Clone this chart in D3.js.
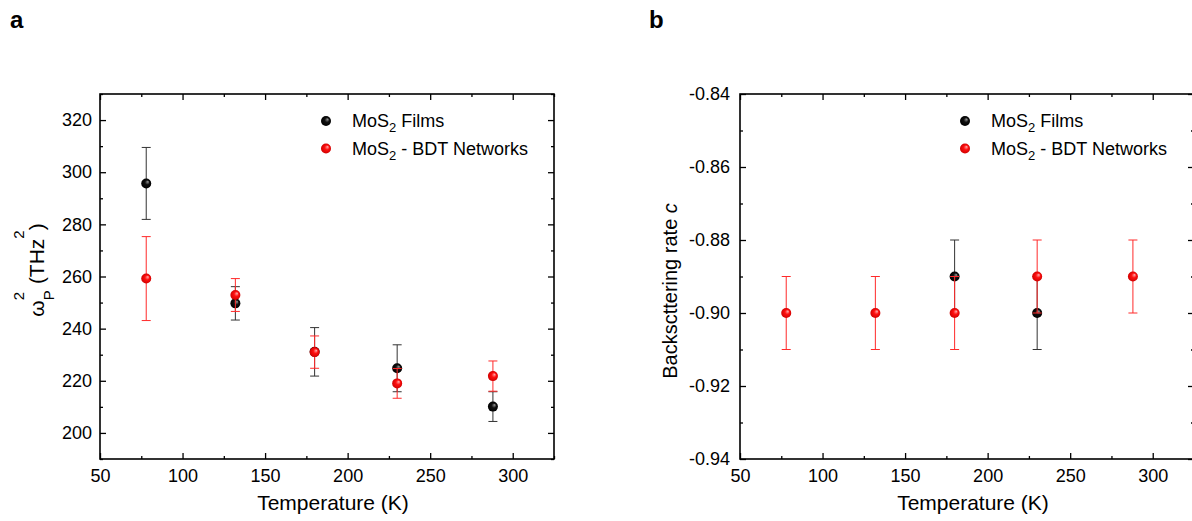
<!DOCTYPE html>
<html>
<head>
<meta charset="utf-8">
<script src="https://cdn.jsdelivr.net/npm/d3@7"></script>
<style>
  body { margin: 0; background: #fff; }
  svg { display: block; font-family: "Liberation Sans", Arial, sans-serif; }
</style>
</head>
<body>
<svg id="chart"></svg>
<script>
// temperatures (K)
var temps = [78, 132, 180, 230, 288]

// panel a: plasma frequency squared (THz^2)
var aFilms = [295.7, 249.7, 231.1, 224.8, 210.1]
var aFilmsErr = [13.8, 6.4, 9.3, 9.0, 5.7]
var aBdt = [259.2, 252.9, 231.0, 219.0, 221.8]
var aBdtErr = [16.1, 6.3, 6.2, 5.7, 5.8]

// panel b: backscattering rate c
var bFilmsTemps = [180, 230]
var bFilms = [-0.89, -0.90]
var bFilmsErr = [0.01, 0.01]
var bBdt = [-0.90, -0.90, -0.90, -0.89, -0.89]
var bBdtErr = [0.01, 0.01, 0.01, 0.01, 0.01]

var xTicks = [50, 100, 150, 200, 250, 300]
var xMinor = [75, 125, 175, 225, 275, 325]
var aYTicks = [200, 220, 240, 260, 280, 300, 320]
var aYMinor = [190, 210, 230, 250, 270, 290, 310, 330]
var bYTicks = [-0.94, -0.92, -0.90, -0.88, -0.86, -0.84]
var bYMinor = [-0.93, -0.91, -0.89, -0.87, -0.85]

var legendNames = ["Films", " - BDT Networks"]

var svg = d3.select('#chart').attr('width', 1192).attr('height', 521)

// sphere-like marker fills
var defs = svg.append('defs')
function sphere(id, light, mid, dark) {
    var g = defs.append('radialGradient').attr('id', id)
        .attr('cx', 0.5).attr('cy', 0.5).attr('r', 0.5)
        .attr('fx', 0.68).attr('fy', 0.32)
    g.append('stop').attr('offset', '0%').attr('stop-color', light)
    g.append('stop').attr('offset', '45%').attr('stop-color', mid)
    g.append('stop').attr('offset', '100%').attr('stop-color', dark)
}
sphere('ballBlack', '#9a9a9a', '#111', '#000')
sphere('ballRed', '#ffb0b0', '#ff1010', '#d00000')

function drawPanel(opts) {
    var x = d3.scaleLinear().domain([50, 325]).range([opts.left, opts.right])
    var y = d3.scaleLinear().domain(opts.yDomain).range([459, 94])
    var g = svg.append('g')

    function styleAxis(sel) {
        sel.select('.domain').remove()
        sel.selectAll('line').attr('stroke', '#000').attr('stroke-width', 1.3)
        sel.selectAll('text').attr('fill', '#000').attr('font-size', '18px')
            .attr('font-family', '"Liberation Sans", Arial, sans-serif')
    }

    // major ticks on every side, pointing inward
    g.append('g').attr('transform', 'translate(0,459)')
        .call(d3.axisBottom(x).tickValues(xTicks).tickSize(-6).tickPadding(10))
        .call(styleAxis)
    g.append('g').attr('transform', 'translate(0,94)')
        .call(d3.axisTop(x).tickValues(xTicks).tickSize(-6).tickFormat(''))
        .call(styleAxis)
    g.append('g').attr('transform', 'translate(' + opts.left + ',0)')
        .call(d3.axisLeft(y).tickValues(opts.yTicks).tickSize(-6).tickPadding(opts.pad).tickFormat(opts.fmt))
        .call(styleAxis)
    g.append('g').attr('transform', 'translate(' + opts.right + ',0)')
        .call(d3.axisRight(y).tickValues(opts.yTicks).tickSize(-6).tickFormat(''))
        .call(styleAxis)
    // minor ticks
    g.append('g').attr('transform', 'translate(0,459)')
        .call(d3.axisBottom(x).tickValues(xMinor).tickSize(-3).tickFormat('')).call(styleAxis)
    g.append('g').attr('transform', 'translate(0,94)')
        .call(d3.axisTop(x).tickValues(xMinor).tickSize(-3).tickFormat('')).call(styleAxis)
    g.append('g').attr('transform', 'translate(' + opts.left + ',0)')
        .call(d3.axisLeft(y).tickValues(opts.yMinor).tickSize(-3).tickFormat('')).call(styleAxis)
    g.append('g').attr('transform', 'translate(' + opts.right + ',0)')
        .call(d3.axisRight(y).tickValues(opts.yMinor).tickSize(-3).tickFormat('')).call(styleAxis)

    // frame
    g.append('rect')
        .attr('x', opts.left).attr('y', 94)
        .attr('width', opts.right - opts.left).attr('height', 459 - 94)
        .attr('fill', 'none').attr('stroke', '#000').attr('stroke-width', 1.6)

    // x title
    g.append('text')
        .attr('x', (opts.left + opts.right) / 2 + 6).attr('y', 510)
        .attr('text-anchor', 'middle').attr('font-size', '21px')
        .text('Temperature (K)')

    // series with error bars
    opts.series.forEach(function(s) {
        var pts = s.t.map(function(t, i) { return { t: t, v: s.v[i], e: s.e[i] } })
        var eg = g.append('g').attr('stroke', s.bar).attr('stroke-width', 1)
        eg.selectAll('line.v').data(pts).enter().append('line')
            .attr('x1', function(d) { return x(d.t) }).attr('x2', function(d) { return x(d.t) })
            .attr('y1', function(d) { return y(d.v + d.e) }).attr('y2', function(d) { return y(d.v - d.e) })
        eg.selectAll('line.top').data(pts).enter().append('line')
            .attr('x1', function(d) { return x(d.t) - 4.5 }).attr('x2', function(d) { return x(d.t) + 4.5 })
            .attr('y1', function(d) { return y(d.v + d.e) }).attr('y2', function(d) { return y(d.v + d.e) })
        eg.selectAll('line.bot').data(pts).enter().append('line')
            .attr('x1', function(d) { return x(d.t) - 4.5 }).attr('x2', function(d) { return x(d.t) + 4.5 })
            .attr('y1', function(d) { return y(d.v - d.e) }).attr('y2', function(d) { return y(d.v - d.e) })
        g.append('g').selectAll('circle').data(pts).enter().append('circle')
            .attr('cx', function(d) { return x(d.t) }).attr('cy', function(d) { return y(d.v) })
            .attr('r', 5).attr('fill', s.fill)
    })

    // legend
    var lg = g.append('g')
    ;[['url(#ballBlack)', legendNames[0]], ['url(#ballRed)', legendNames[1]]].forEach(function(it, i) {
        var ly = 121 + i * 27.5
        lg.append('circle').attr('cx', opts.legX).attr('cy', ly).attr('r', 5).attr('fill', it[0])
        var t = lg.append('text').attr('x', opts.legX + 26).attr('y', ly + 6).attr('font-size', '18px')
        t.append('tspan').text('MoS')
        t.append('tspan').attr('font-size', '13px').attr('dy', 5).text('2')
        t.append('tspan').attr('dy', -5).text(it[1].charAt(0) == ' ' ? it[1] : ' ' + it[1])
    })
    return g
}

var pa = drawPanel({
    left: 100, right: 554, yDomain: [190, 330],
    yTicks: aYTicks, yMinor: aYMinor, pad: 8,
    fmt: function(d) { return d },
    legX: 326,
    series: [
        { t: temps, v: aFilms, e: aFilmsErr, fill: 'url(#ballBlack)', bar: '#333' },
        { t: temps, v: aBdt, e: aBdtErr, fill: 'url(#ballRed)', bar: '#ff2a2a' }
    ]
})

var pb = drawPanel({
    left: 740, right: 1194, yDomain: [-0.94, -0.84],
    yTicks: bYTicks, yMinor: bYMinor, pad: 10,
    fmt: function(d) { return d.toFixed(2) },
    legX: 965,
    series: [
        { t: bFilmsTemps, v: bFilms, e: bFilmsErr, fill: 'url(#ballBlack)', bar: '#333' },
        { t: temps, v: bBdt, e: bBdtErr, fill: 'url(#ballRed)', bar: '#ff2a2a' }
    ]
})

// y titles
var ta = svg.append('text')
    .attr('transform', 'translate(44,270) rotate(-90)')
    .attr('text-anchor', 'middle').attr('font-size', '21px')
ta.append('tspan').text('ω')
ta.append('tspan').attr('font-size', '15px').attr('dy', 10).text('P')
ta.append('tspan').attr('font-size', '15px').attr('dx', -10).attr('dy', -30).text('2')
ta.append('tspan').attr('dx', 2).attr('dy', 20).text(' (THz')
ta.append('tspan').attr('font-size', '15px').attr('dy', -20).text('2')
ta.append('tspan').attr('dy', 20).text(')')

var tb = svg.append('text')
    .attr('transform', 'translate(677,291) rotate(-90)')
    .attr('text-anchor', 'middle').attr('font-size', '20px')
tb.append('tspan').text('Backscttering rate ')
tb.append('tspan').attr('font-style', 'italic').text('c')

// panel letters
svg.append('text').attr('x', 10).attr('y', 28).attr('font-size', '24px')
    .attr('font-weight', 'bold').attr('font-family', '"Liberation Sans Narrow", "Liberation Sans", Arial')
    .text('a')
svg.append('text').attr('x', 649).attr('y', 28).attr('font-size', '24px')
    .attr('font-weight', 'bold').attr('font-family', '"Liberation Sans Narrow", "Liberation Sans", Arial')
    .text('b')
</script>
</body>
</html>
